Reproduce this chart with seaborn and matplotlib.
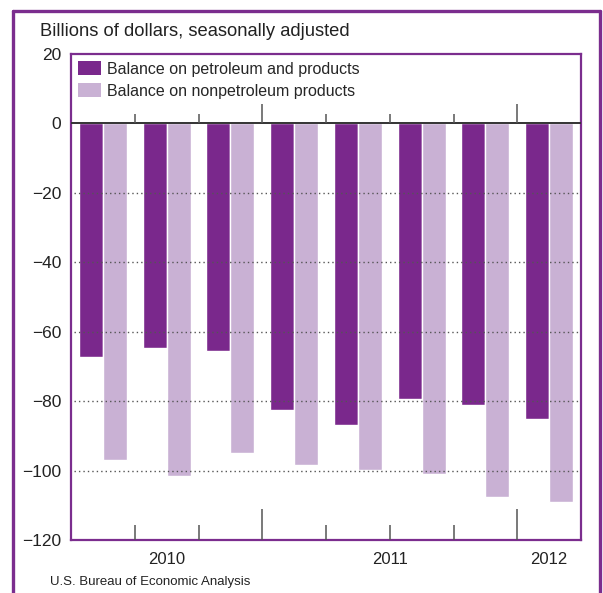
import numpy as np
import pandas as pd
import seaborn as sns
import matplotlib.pyplot as plt
from matplotlib.patches import Patch
import matplotlib.lines as mlines

# Data
# ===================================================
quarters = ['2010 Q2', '2010 Q3', '2010 Q4', '2011 Q1', '2011 Q2', '2011 Q3', '2011 Q4', '2012 Q1']
petroleum = [-67.2, -64.7, -65.6, -82.6, -86.9, -79.4, -81.1, -85.2]
nonpetroleum = [-96.9, -101.5, -94.9, -98.4, -99.7, -101.0, -107.6, -109.0]
series_names = ['Balance on petroleum and products', 'Balance on nonpetroleum products']
year_labels = ['2010', '2011', '2012']
year_centers = [1.0, 4.5, 7.0]
y_ticks = [20, 0, -20, -40, -60, -80, -100, -120]

df = pd.DataFrame({
    'quarter': quarters * 2,
    'value': petroleum + nonpetroleum,
    'series': [series_names[0]] * len(quarters) + [series_names[1]] * len(quarters),
})

# Visualization
# ===================================================
sns.set_style('white')
plt.rcParams['font.family'] = ['Liberation Sans', 'DejaVu Sans']

purple = '#7a288c'
lilac = '#c9b1d4'
frame = '#7b2d8e'
palette = {series_names[0]: purple, series_names[1]: lilac}

fig = plt.figure(figsize=(6.03, 5.93), dpi=100)
ax = fig.add_axes([71 / 603, 53 / 593, 510 / 603, 486 / 593])

sns.barplot(data=df, x='quarter', y='value', hue='series', palette=palette,
            width=0.75, saturation=1, ax=ax, legend=False, zorder=1)

ax.set_xlim(-0.5, 7.5)
ax.set_ylim(-120, 20)
ax.set_yticks(y_ticks)
ax.tick_params(axis='y', length=0, pad=7, labelsize=12.5, labelcolor='#222222')
ax.set_xticks([])
ax.set_xlabel('')
ax.set_ylabel('')

# Dotted gridlines on top of the bars
for y in y_ticks[2:-1]:
    ax.axhline(y, xmin=0.006, color='#555555', lw=1, ls=(0, (1, 2.2)), zorder=3)

# Zero line
ax.axhline(0, color='#333333', lw=1.4, zorder=4)

# Quarter separators (long ones mark the years)
for b in np.arange(0.5, 7.5, 1):
    long = b in (2.5, 6.5)
    ax.vlines(b, -120, -111 if long else -115.7, color='#555555', lw=1.1, zorder=4)
    ax.vlines(b, 0, 5.5 if long else 2.6, color='#555555', lw=1.1, zorder=4)

# Year labels
for lab, xc in zip(year_labels, year_centers):
    ax.text(xc, -123.5, lab, ha='center', va='top', fontsize=12, color='#222222')

for s in ax.spines.values():
    s.set_color(frame)
    s.set_linewidth(1.6)

# Legend
handles = [Patch(facecolor=palette[n], edgecolor='none', label=n) for n in series_names]
ax.legend(handles=handles, loc='upper left', frameon=False, fontsize=11.5,
          handlelength=1.4, handleheight=0.95, handletextpad=0.38,
          labelspacing=0.42, borderaxespad=0.15, borderpad=0.3)

# Titles and notes
fig.text(40 / 603, 1 - 31 / 593, 'Billions of dollars, seasonally adjusted',
         fontsize=13.2, va='center', ha='left', color='#222222')
fig.text(50 / 603, 1 - 582 / 593, 'U.S. Bureau of Economic Analysis',
         fontsize=9.5, va='center', ha='left', color='#222222',
         family=['Liberation Sans Narrow', 'Liberation Sans'])

# Outer frame
kw = dict(color=frame, lw=2.4, transform=fig.transFigure, clip_on=False)
fig.add_artist(mlines.Line2D([12.5 / 603, 12.5 / 603], [0, 1 - 10.5 / 593], **kw))
fig.add_artist(mlines.Line2D([12.5 / 603, 600 / 603], [1 - 10.5 / 593, 1 - 10.5 / 593], **kw))
fig.add_artist(mlines.Line2D([600 / 603, 600 / 603], [0, 1 - 10.5 / 593], **kw))

plt.savefig('out.png', dpi=100)
